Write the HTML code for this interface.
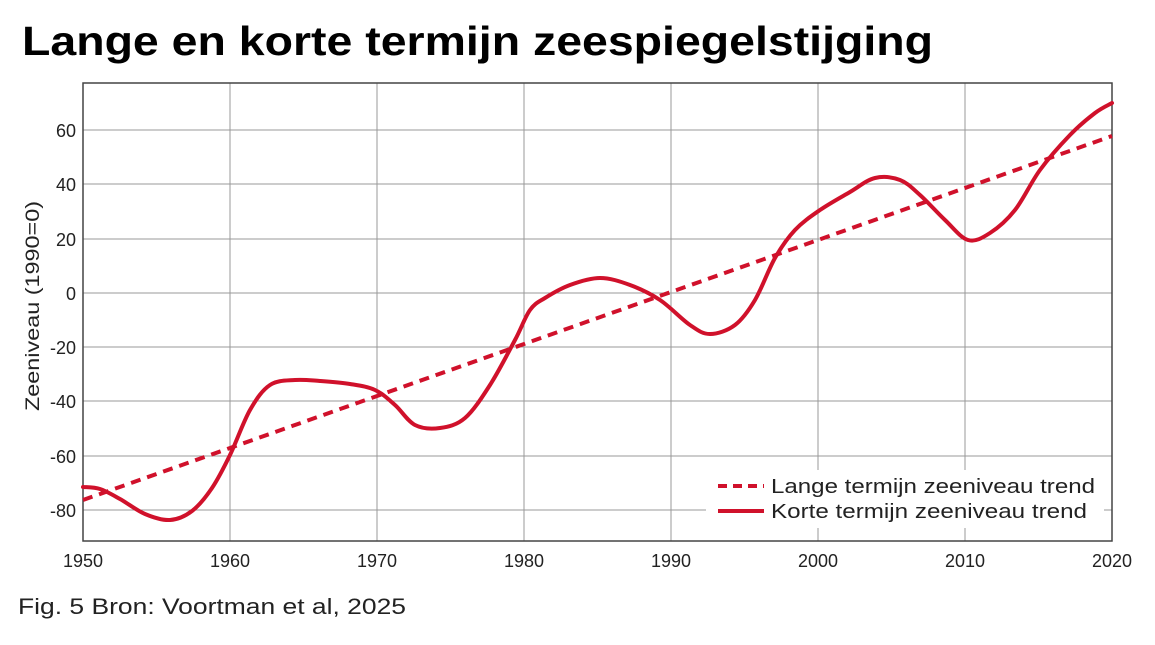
<!DOCTYPE html>
<html><head><meta charset="utf-8"><style>
body{margin:0;background:#fff;width:1155px;height:640px;overflow:hidden}
svg text{font-family:"Liberation Sans",sans-serif}
</style></head><body>
<svg width="1155" height="640" viewBox="0 0 1155 640">
<text x="22" y="55" font-size="41" font-weight="bold" fill="#000" textLength="911" lengthAdjust="spacingAndGlyphs">Lange en korte termijn zeespiegelstijging</text>
<g stroke="#999" stroke-width="1">
<line x1="230" y1="83" x2="230" y2="541"/><line x1="377" y1="83" x2="377" y2="541"/>
<line x1="524" y1="83" x2="524" y2="541"/><line x1="671" y1="83" x2="671" y2="541"/>
<line x1="818" y1="83" x2="818" y2="541"/><line x1="965" y1="83" x2="965" y2="541"/>
<line x1="83" y1="130" x2="1112" y2="130"/><line x1="83" y1="184" x2="1112" y2="184"/>
<line x1="83" y1="239" x2="1112" y2="239"/><line x1="83" y1="293" x2="1112" y2="293"/>
<line x1="83" y1="347" x2="1112" y2="347"/><line x1="83" y1="401" x2="1112" y2="401"/>
<line x1="83" y1="456" x2="1112" y2="456"/><line x1="83" y1="510" x2="1112" y2="510"/>
</g>
<rect x="83" y="83" width="1029" height="458" fill="none" stroke="#444" stroke-width="1.5"/>
<g font-size="18" fill="#222" text-anchor="end">
<text x="76" y="137">60</text><text x="76" y="191">40</text><text x="76" y="246">20</text>
<text x="76" y="300">0</text><text x="76" y="354">-20</text><text x="76" y="408">-40</text>
<text x="76" y="463">-60</text><text x="76" y="517">-80</text>
</g>
<g font-size="18" fill="#222" text-anchor="middle">
<text x="83" y="567">1950</text><text x="230" y="567">1960</text><text x="377" y="567">1970</text>
<text x="524" y="567">1980</text><text x="671" y="567">1990</text><text x="818" y="567">2000</text>
<text x="965" y="567">2010</text><text x="1112" y="567">2020</text>
</g>
<text transform="translate(39,306) rotate(-90)" font-size="19" fill="#222" text-anchor="middle" textLength="210" lengthAdjust="spacingAndGlyphs">Zeeniveau (1990=0)</text>
<line x1="83" y1="500" x2="1112" y2="136" stroke="#d0112b" stroke-width="4" stroke-dasharray="10,7"/>
<path id="curve" fill="none" stroke="#d0112b" stroke-width="4" stroke-linejoin="round" stroke-linecap="round" d=""/>
<rect x="706" y="470" width="398" height="58" fill="#fff"/>
<line x1="718" y1="486" x2="764" y2="486" stroke="#d0112b" stroke-width="4" stroke-dasharray="9,6"/>
<line x1="718" y1="511" x2="764" y2="511" stroke="#d0112b" stroke-width="4"/>
<text x="771" y="493" font-size="20" fill="#222" textLength="324" lengthAdjust="spacingAndGlyphs">Lange termijn zeeniveau trend</text>
<text x="771" y="518" font-size="20" fill="#222" textLength="316" lengthAdjust="spacingAndGlyphs">Korte termijn zeeniveau trend</text>
<text x="18" y="614" font-size="22" fill="#222" textLength="388" lengthAdjust="spacingAndGlyphs">Fig. 5 Bron: Voortman et al, 2025</text>
</svg>
<script>
var p=[[83,487],[100,489],[120,499],[145,514],[170,520],[192,511],[212,488],[230,455],[250,410],[270,385],[295,380],[320,381],[350,384],[375,390],[395,405],[415,425],[440,428],[465,418],[490,385],[515,340],[530,310],[545,298],[570,285],[600,278],[630,285],[660,300],[690,325],[710,334],[735,325],[755,300],[775,258],[795,230],[820,210],[850,192],[875,178],[900,180],[920,195],[945,220],[968,240],[990,233],[1015,210],[1040,170],[1070,135],[1095,113],[1112,103]];
var d="M"+p[0][0]+","+p[0][1];
for(var i=0;i<p.length-1;i++){var a=p[Math.max(0,i-1)],b=p[i],c=p[i+1],e=p[Math.min(p.length-1,i+2)];
d+=" C"+(b[0]+(c[0]-a[0])/6)+","+(b[1]+(c[1]-a[1])/6)+" "+(c[0]-(e[0]-b[0])/6)+","+(c[1]-(e[1]-b[1])/6)+" "+c[0]+","+c[1];}
document.getElementById("curve").setAttribute("d",d);
</script>
</body></html>
